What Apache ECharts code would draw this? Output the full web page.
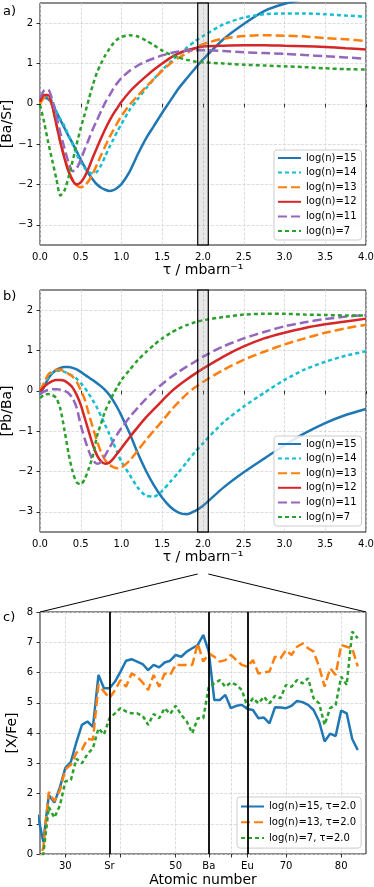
<!DOCTYPE html>
<html>
<head>
<meta charset="utf-8">
<script src="https://cdn.jsdelivr.net/npm/echarts@6/dist/echarts.min.js"></script>
<style>
  html, body { margin: 0; padding: 0; background: #fff; }
  #chart { width: 374px; height: 887px; }
</style>
</head>
<body>
<div id="chart"></div>
<script>
// tau grid shared by panels a) and b)
const tau = [0, 0.05, 0.1, 0.15, 0.2, 0.25, 0.3, 0.35, 0.4, 0.45, 0.5, 0.55, 0.6, 0.65, 0.7, 0.75, 0.8, 0.85, 0.9, 0.95,
  1.0, 1.1, 1.2, 1.3, 1.4, 1.5, 1.6, 1.7, 1.8, 1.9, 2.0, 2.25, 2.5, 2.75, 3.0, 3.25, 3.5, 3.75, 4.0];

// a) [Ba/Sr]
const baSr15 = [0.1, 0.15, 0.12, 0.0, -0.2, -0.4, -0.6, -0.8, -0.98, -1.18, -1.38, -1.57, -1.74, -1.88, -2.0, -2.08, -2.13, -2.16, -2.14, -2.08,
  -1.99, -1.68, -1.25, -0.86, -0.54, -0.22, 0.08, 0.38, 0.63, 0.87, 1.1, 1.6, 1.98, 2.3, 2.48, 2.6, 2.7, 2.76, 2.8];
const baSr14 = [0.05, 0.18, 0.2, 0.05, -0.18, -0.38, -0.55, -0.78, -1.0, -1.25, -1.45, -1.6, -1.69, -1.73, -1.68, -1.52, -1.3, -1.08, -0.88, -0.68,
  -0.5, -0.15, 0.12, 0.38, 0.62, 0.84, 1.04, 1.22, 1.39, 1.55, 1.68, 1.97, 2.14, 2.22, 2.24, 2.24, 2.22, 2.19, 2.16];
const baSr13 = [0.0, 0.15, 0.18, -0.05, -0.5, -0.95, -1.31, -1.65, -1.88, -2.02, -2.07, -2.03, -1.9, -1.72, -1.5, -1.27, -1.05, -0.84, -0.65, -0.47,
  -0.3, -0.02, 0.2, 0.42, 0.62, 0.82, 1.0, 1.14, 1.26, 1.38, 1.48, 1.62, 1.68, 1.7, 1.69, 1.67, 1.63, 1.6, 1.56];
const baSr12 = [0.05, 0.22, 0.22, -0.05, -0.5, -0.95, -1.35, -1.68, -1.9, -2.0, -1.95, -1.8, -1.58, -1.32, -1.08, -0.85, -0.63, -0.43, -0.25, -0.1,
  0.05, 0.3, 0.5, 0.68, 0.85, 1.0, 1.14, 1.25, 1.33, 1.38, 1.42, 1.44, 1.45, 1.45, 1.44, 1.43, 1.41, 1.38, 1.35];
const baSr11 = [0.15, 0.33, 0.35, 0.1, -0.3, -0.72, -1.1, -1.45, -1.67, -1.6, -1.38, -1.12, -0.87, -0.62, -0.4, -0.18, 0.03, 0.2, 0.38, 0.52,
  0.64, 0.82, 0.95, 1.05, 1.13, 1.2, 1.26, 1.3, 1.32, 1.33, 1.33, 1.31, 1.28, 1.26, 1.24, 1.21, 1.18, 1.15, 1.12];
const baSr7 = [-0.03, -0.45, -0.95, -1.4, -1.85, -2.27, -2.15, -1.82, -1.42, -1.0, -0.6, -0.25, 0.12, 0.48, 0.78, 1.0, 1.2, 1.36, 1.5, 1.6,
  1.66, 1.7, 1.67, 1.57, 1.45, 1.32, 1.22, 1.15, 1.09, 1.05, 1.03, 1.0, 0.97, 0.95, 0.93, 0.91, 0.88, 0.86, 0.85];

// b) [Pb/Ba]
const pbBa15 = [-0.1, 0.1, 0.3, 0.43, 0.52, 0.57, 0.59, 0.59, 0.57, 0.53, 0.47, 0.4, 0.33, 0.26, 0.19, 0.11, 0.02, -0.1, -0.25, -0.42,
  -0.62, -1.05, -1.55, -1.98, -2.35, -2.65, -2.88, -3.02, -3.06, -2.98, -2.85, -2.4, -2.02, -1.68, -1.35, -1.05, -0.8, -0.6, -0.45];
const pbBa14 = [-0.05, 0.15, 0.33, 0.45, 0.5, 0.5, 0.47, 0.42, 0.37, 0.3, 0.19, 0.07, -0.08, -0.24, -0.42, -0.63, -0.85, -1.07, -1.3, -1.53,
  -1.76, -2.08, -2.4, -2.6, -2.62, -2.48, -2.25, -2.02, -1.77, -1.52, -1.3, -0.78, -0.39, -0.05, 0.27, 0.53, 0.72, 0.87, 0.98];
const pbBa13 = [0.0, 0.2, 0.4, 0.48, 0.52, 0.52, 0.48, 0.42, 0.35, 0.22, 0.02, -0.22, -0.58, -0.92, -1.25, -1.52, -1.72, -1.83, -1.89, -1.92,
  -1.9, -1.73, -1.48, -1.22, -0.98, -0.75, -0.5, -0.28, -0.08, 0.08, 0.22, 0.52, 0.77, 0.97, 1.15, 1.3, 1.44, 1.55, 1.64];
const pbBa12 = [-0.02, 0.1, 0.18, 0.24, 0.27, 0.27, 0.25, 0.18, 0.08, -0.1, -0.35, -0.68, -1.02, -1.35, -1.6, -1.75, -1.81, -1.78, -1.68, -1.55,
  -1.42, -1.15, -0.9, -0.66, -0.45, -0.24, -0.04, 0.13, 0.28, 0.42, 0.55, 0.85, 1.1, 1.3, 1.44, 1.56, 1.65, 1.72, 1.79];
const pbBa11 = [-0.08, -0.02, 0.02, 0.04, 0.04, 0.03, 0.0, -0.06, -0.18, -0.42, -0.85, -1.2, -1.5, -1.72, -1.81, -1.76, -1.6, -1.42, -1.24, -1.07,
  -0.92, -0.65, -0.42, -0.2, 0.0, 0.17, 0.33, 0.47, 0.6, 0.72, 0.85, 1.1, 1.3, 1.46, 1.6, 1.7, 1.78, 1.84, 1.88];
const pbBa7 = [-0.18, -0.1, -0.08, -0.1, -0.18, -0.45, -0.97, -1.55, -2.0, -2.27, -2.32, -2.18, -1.92, -1.6, -1.12, -0.8, -0.5, -0.28, -0.08, 0.1,
  0.27, 0.52, 0.76, 0.96, 1.14, 1.3, 1.43, 1.54, 1.63, 1.7, 1.75, 1.83, 1.89, 1.91, 1.91, 1.89, 1.88, 1.87, 1.87];

// c) [X/Fe] at tau = 2.0, atomic numbers 25..83
const atomicZ = [25, 26, 27, 28, 29, 30, 31, 32, 33, 34, 35, 36, 37, 38, 39, 40, 41, 42, 43, 44, 45, 46, 47, 48, 49, 50, 51, 52, 53, 54,
  55, 56, 57, 58, 59, 60, 61, 62, 63, 64, 65, 66, 67, 68, 69, 70, 71, 72, 73, 74, 75, 76, 77, 78, 79, 80, 81, 82, 83];
const xFe15 = [1.3, 0.4, 1.95, 1.7, 2.2, 2.85, 3.05, 3.7, 4.27, 4.38, 4.2, 5.92, 5.48, 5.48, 5.7, 6.03, 6.39, 6.44, 6.36, 6.28, 6.08, 6.25, 6.17, 6.33, 6.39, 6.58, 6.52, 6.69, 6.8, 6.91,
  7.24, 6.69, 5.09, 5.09, 5.26, 4.82, 4.9, 4.93, 4.79, 4.76, 4.49, 4.51, 4.32, 4.85, 4.84, 4.82, 4.9, 5.06, 5.02, 4.93, 4.76, 4.38, 3.72, 3.98, 3.9, 4.74, 4.65, 3.8, 3.44];
const xFe13 = [-0.3, 0.2, 2.05, 1.75, 2.1, 2.8, 2.95, 3.35, 3.45, 3.8, 3.78, 5.59, 5.37, 5.15, 5.42, 5.75, 5.53, 5.97, 5.86, 5.67, 5.42, 5.92, 5.53, 5.97, 5.92, 6.25, 6.25, 6.25, 6.25, 6.96,
  6.36, 6.63, 6.52, 6.36, 6.41, 6.58, 6.41, 6.25, 6.19, 6.41, 5.97, 6.0, 6.03, 6.52, 6.47, 6.74, 6.58, 6.85, 6.96, 6.8, 6.69, 6.19, 5.53, 6.14, 5.92, 6.91, 6.85, 6.8, 6.2];
const xFe7 = [-0.5, 0.0, 1.55, 1.2, 1.6, 2.4, 2.45, 3.15, 3.0, 3.3, 3.5, 4.15, 3.95, 4.49, 4.65, 4.82, 4.71, 4.65, 4.65, 4.57, 4.27, 4.63, 4.49, 4.82, 4.63, 4.9, 4.6, 4.38, 3.99, 4.49,
  4.49, 5.53, 5.64, 5.75, 5.53, 5.67, 5.59, 5.42, 4.87, 5.15, 4.98, 5.2, 4.98, 5.23, 5.15, 5.59, 5.53, 5.75, 5.64, 5.81, 5.15, 4.98, 4.27, 4.82, 4.93, 5.86, 5.59, 7.35, 7.13];

const tauTicks = [-3, -2, -1, 0, 1, 2];
const zTicks = [30, 38, 40, 50, 56, 60, 63, 70, 80];
const zTickLabels = ['30', 'Sr', '', '50', 'Ba', '', 'Eu', '70', '80'];
const markedZ = [38, 56, 63];
const bandRange = [1.935, 2.065];

const FONT = 'DejaVu Sans';
const BLUE = '#1f77b4', CYAN = '#17becf', ORANGE = '#ff7f0e', RED = '#d62728', PURPLE = '#9467bd', GREEN = '#2ca02c';
const DASH = [9, 4];
const DOT = [4, 3];

const chart = echarts.init(document.getElementById('chart'), null, { renderer: 'canvas' });

const minus = v => String(v).replace('-', '\u2212');
const splitStyle = { show: true, lineStyle: { color: '#d4d4d4', width: 0.8, type: [3, 1.5] } };
const tickStyle = { show: true, length: 3.5, lineStyle: { color: '#000', width: 0.8 } };

function tauAxis(idx) {
  return {
    type: 'value', gridIndex: idx, min: 0, max: 4, interval: 0.5,
    name: 'τ / mbarn⁻¹', nameLocation: 'middle', nameGap: 14,
    nameTextStyle: { fontFamily: FONT, fontSize: 14, color: '#000' },
    axisLine: { show: false }, axisTick: tickStyle, splitLine: splitStyle,
    axisLabel: { fontFamily: FONT, fontSize: 10, color: '#000', margin: 7, formatter: v => v.toFixed(1) }
  };
}

function ratioAxis(idx, name) {
  return {
    type: 'value', gridIndex: idx, min: -3.5, max: 2.5,
    name, nameLocation: 'middle', nameGap: 26, nameMoveOverlap: false,
    nameTextStyle: { fontFamily: FONT, fontSize: 14, color: '#000' },
    axisLine: { show: false },
    axisTick: Object.assign({ customValues: tauTicks }, tickStyle),
    splitLine: splitStyle,
    axisLabel: { customValues: tauTicks, fontFamily: FONT, fontSize: 10, color: '#000', margin: 7, formatter: minus }
  };
}

function tauSeries(name, vals, idx, color, dash) {
  return {
    name, type: 'line', xAxisIndex: idx, yAxisIndex: idx,
    data: tau.map((t, i) => [t, vals[i]]),
    symbol: 'none', smooth: 0.25, z: 3,
    lineStyle: { color, width: 2.5, type: dash || 'solid' },
    itemStyle: { color },
    emphasis: { disabled: true }
  };
}

function bandArea() {
  return {
    silent: true, z: 10,
    itemStyle: { color: 'rgba(150,150,150,0.22)', borderColor: '#000', borderWidth: 1.2 },
    data: [[{ xAxis: bandRange[0] }, { xAxis: bandRange[1] }]]
  };
}

function panelSeries(idx, sets) {
  const list = [
    tauSeries('log(n)=15', sets[0], idx, BLUE),
    tauSeries('log(n)=14', sets[1], idx, CYAN, DOT),
    tauSeries('log(n)=13', sets[2], idx, ORANGE, DASH),
    tauSeries('log(n)=12', sets[3], idx, RED),
    tauSeries('log(n)=11', sets[4], idx, PURPLE, DASH),
    tauSeries('log(n)=7', sets[5], idx, GREEN, DOT)
  ];
  list[5].markArea = bandArea();
  return list;
}

function zSeries(name, vals, color, dash) {
  return {
    name, type: 'line', xAxisIndex: 2, yAxisIndex: 2,
    data: atomicZ.map((z, i) => [z, vals[i]]),
    symbol: 'none', z: 3,
    lineStyle: { color, width: 2.5, type: dash || 'solid' },
    itemStyle: { color },
    emphasis: { disabled: true }
  };
}

const seriesC = [
  zSeries('log(n)=15, τ=2.0', xFe15, BLUE),
  zSeries('log(n)=13, τ=2.0', xFe13, ORANGE, DASH),
  zSeries('log(n)=7, τ=2.0', xFe7, GREEN, DOT)
];
seriesC[0].markLine = {
  silent: true, symbol: 'none', z: 6,
  label: { show: false },
  lineStyle: { color: '#000', width: 1.8, type: 'solid' },
  data: markedZ.map(z => ({ xAxis: z }))
};

const legendBase = {
  orient: 'vertical', itemWidth: 23, itemHeight: 10, itemGap: 4.6,
  backgroundColor: 'rgba(255,255,255,0.85)', borderColor: '#cccccc', borderWidth: 1, borderRadius: 3,
  padding: [3, 5, 4, 3],
  itemStyle: { opacity: 0 },
  textStyle: { fontFamily: FONT, fontSize: 10, color: '#000', lineHeight: 10 }
};
const namesTau = ['log(n)=15', 'log(n)=14', 'log(n)=13', 'log(n)=12', 'log(n)=11', 'log(n)=7'];

const gridBase = {
  left: 40, width: 326, height: 242, show: true, borderColor: '#000', borderWidth: 0.9,
  backgroundColor: 'transparent', containLabel: false, outerBoundsMode: 'none'
};

const option = {
  animation: false,
  backgroundColor: '#fff',
  grid: [
    Object.assign({}, gridBase, { top: 3 }),
    Object.assign({}, gridBase, { top: 290 }),
    Object.assign({}, gridBase, { top: 612 })
  ],
  xAxis: [
    tauAxis(0),
    tauAxis(1),
    {
      type: 'value', gridIndex: 2, min: 25.4, max: 84.5,
      name: 'Atomic number', nameLocation: 'middle', nameGap: 19,
      nameTextStyle: { fontFamily: FONT, fontSize: 14, color: '#000' },
      axisLine: { show: false },
      axisTick: Object.assign({ customValues: zTicks }, tickStyle),
      splitLine: splitStyle,
      axisLabel: {
        customValues: zTicks, fontFamily: FONT, fontSize: 10, color: '#000', margin: 7,
        formatter: v => zTickLabels[zTicks.indexOf(v)] || ''
      }
    }
  ],
  yAxis: [
    ratioAxis(0, '[Ba/Sr]'),
    ratioAxis(1, '[Pb/Ba]'),
    {
      type: 'value', gridIndex: 2, min: 0, max: 8, interval: 1,
      name: '[X/Fe]', nameLocation: 'middle', nameGap: 20.5, nameMoveOverlap: false,
      nameTextStyle: { fontFamily: FONT, fontSize: 14, color: '#000' },
      axisLine: { show: false }, axisTick: tickStyle, splitLine: splitStyle,
      axisLabel: { fontFamily: FONT, fontSize: 10, color: '#000', margin: 7 }
    }
  ],
  legend: [
    Object.assign({}, legendBase, { left: 274, top: 150, data: namesTau }),
    Object.assign({}, legendBase, { left: 274, top: 436, data: namesTau }),
    Object.assign({}, legendBase, {
      left: 237, top: 797, itemGap: 5.8, padding: [4.5, 5, 5, 3],
      data: ['log(n)=15, τ=2.0', 'log(n)=13, τ=2.0', 'log(n)=7, τ=2.0']
    })
  ],
  series: [
    ...panelSeries(0, [baSr15, baSr14, baSr13, baSr12, baSr11, baSr7]),
    ...panelSeries(1, [pbBa15, pbBa14, pbBa13, pbBa12, pbBa11, pbBa7]),
    ...seriesC
  ]
};

chart.setOption(option);

// zoom connector from the tau band of panel b) to panel c)
const lo = chart.convertToPixel({ xAxisIndex: 1, yAxisIndex: 1 }, [bandRange[0], -3.5]);
const hi = chart.convertToPixel({ xAxisIndex: 1, yAxisIndex: 1 }, [bandRange[1], -3.5]);
const cl = chart.convertToPixel({ xAxisIndex: 2, yAxisIndex: 2 }, [25.4, 8]);
const cr = chart.convertToPixel({ xAxisIndex: 2, yAxisIndex: 2 }, [84.5, 8]);
const drop = 42;

const panelLabel = (text, top) => ({
  type: 'text', left: 3, top,
  style: { text, font: '13px "DejaVu Sans"', fill: '#000' }
});

chart.setOption({
  graphic: [
    panelLabel('a)', 5),
    panelLabel('b)', 290),
    panelLabel('c)', 611),
    { type: 'line', silent: true, shape: { x1: lo[0], y1: lo[1] + drop, x2: cl[0], y2: cl[1] }, style: { stroke: '#000', lineWidth: 1 } },
    { type: 'line', silent: true, shape: { x1: hi[0], y1: hi[1] + drop, x2: cr[0], y2: cr[1] }, style: { stroke: '#000', lineWidth: 1 } }
  ]
});

window.addEventListener('resize', () => chart.resize());
</script>
</body>
</html>
